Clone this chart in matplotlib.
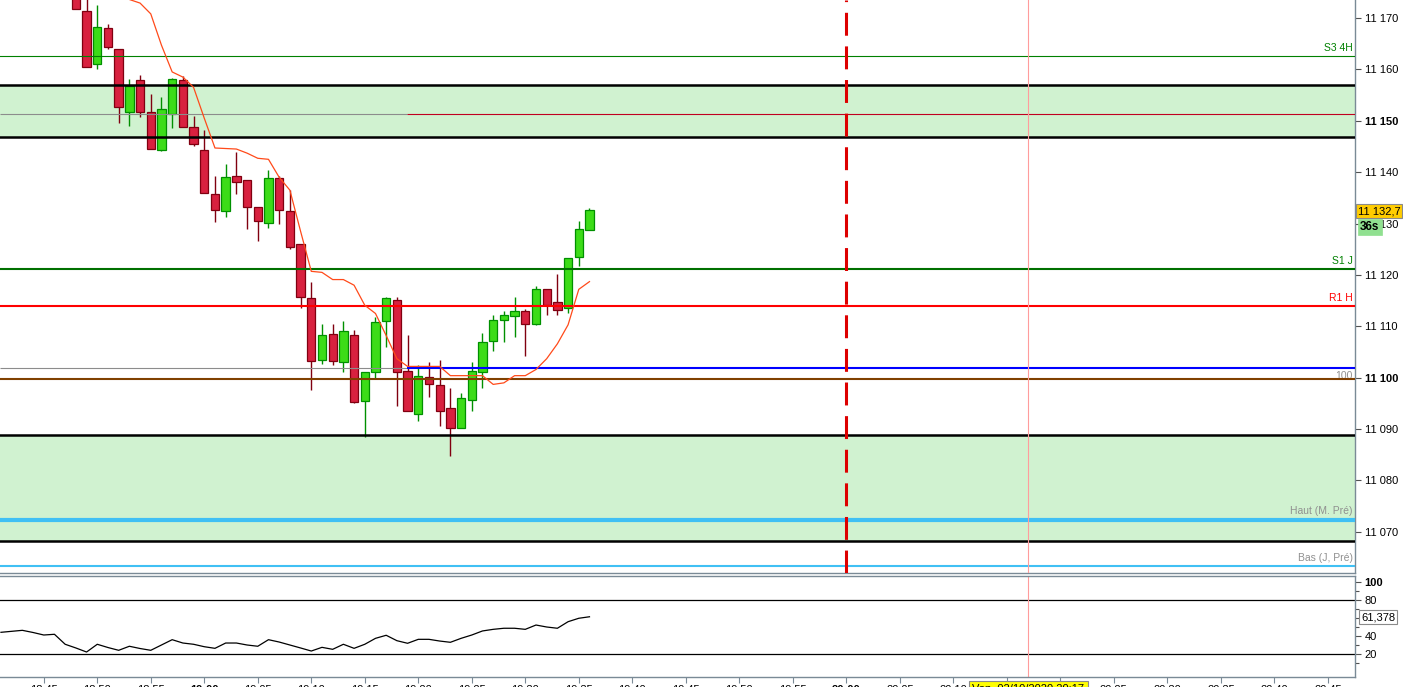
import matplotlib.pyplot as plt
from matplotlib.transforms import blended_transform_factory

plt.rcParams['font.family'] = ['Liberation Sans', 'DejaVu Sans']

# 1-minute candles, the first visible one is 18:48
first_candle = "18:48"
opens = [11177.0, 11171.3, 11161.0, 11168.0, 11163.9, 11151.7, 11158.0, 11151.8, 11144.4, 11151.3,
         11158.0, 11148.7, 11144.4, 11135.8, 11132.5, 11139.3, 11138.4, 11133.3, 11130.2, 11138.8,
         11132.5, 11126.1, 11115.6, 11103.5, 11108.5, 11103.1, 11108.3, 11095.5, 11101.1, 11111.1,
         11115.2, 11101.3, 11093.0, 11100.2, 11098.6, 11094.1, 11090.2, 11095.6, 11101.1, 11107.2,
         11111.3, 11112.0, 11113.0, 11110.5, 11117.3, 11114.8, 11113.6, 11123.4, 11128.8]
highs = [11178.5, 11175.5, 11172.5, 11168.8, 11163.9, 11158.1, 11158.9, 11155.3, 11154.7, 11158.4,
         11158.7, 11150.9, 11148.2, 11139.2, 11141.5, 11143.9, 11138.4, 11133.3, 11140.4, 11139.2,
         11136.5, 11126.1, 11118.7, 11110.5, 11110.5, 11111.1, 11109.2, 11101.1, 11111.9, 11115.8,
         11115.8, 11108.4, 11102.5, 11103.1, 11103.5, 11098.0, 11097.0, 11103.1, 11108.7, 11112.2,
         11113.0, 11115.8, 11113.3, 11117.8, 11117.3, 11120.2, 11123.2, 11130.4, 11133.1]
lows = [11171.7, 11160.4, 11160.0, 11163.9, 11149.6, 11149.0, 11150.8, 11144.6, 11144.1, 11148.6,
        11148.8, 11145.1, 11136.0, 11130.3, 11131.3, 11135.7, 11128.9, 11126.6, 11129.1, 11130.0,
        11125.1, 11113.5, 11097.6, 11102.7, 11102.5, 11101.2, 11095.0, 11088.4, 11100.0, 11105.9,
        11094.4, 11093.5, 11091.5, 11096.2, 11090.7, 11084.7, 11090.2, 11093.5, 11098.0, 11105.2,
        11107.0, 11108.0, 11104.2, 11110.3, 11112.2, 11112.2, 11112.6, 11121.7, 11128.8]
closes = [11171.7, 11160.4, 11168.2, 11164.3, 11152.6, 11156.7, 11151.7, 11144.6, 11152.2, 11158.2,
          11148.8, 11145.4, 11136.0, 11132.7, 11139.1, 11138.1, 11133.2, 11130.4, 11138.8, 11132.7,
          11125.5, 11115.8, 11103.3, 11108.3, 11103.3, 11109.1, 11095.2, 11101.1, 11110.9, 11115.6,
          11101.1, 11093.5, 11100.4, 11098.8, 11093.5, 11090.2, 11096.1, 11101.3, 11107.0, 11111.3,
          11112.2, 11113.0, 11110.5, 11117.3, 11114.2, 11113.2, 11123.2, 11129.0, 11132.7]

# moving average, starts 18:52
sma_start = "18:52"
sma = [11178.0, 11173.6, 11172.9, 11170.8, 11164.7, 11159.5, 11158.5, 11156.5, 11150.5, 11144.7,
       11144.6, 11144.5, 11143.7, 11142.7, 11142.5, 11139.0, 11136.5, 11128.5, 11120.7, 11120.5,
       11119.1, 11119.1, 11118.0, 11114.1, 11112.5, 11108.2, 11103.7, 11102.2, 11102.2, 11102.2,
       11102.2, 11100.4, 11100.4, 11100.4, 11100.4, 11098.7, 11099.0, 11100.4, 11100.4, 11101.6,
       11103.7, 11106.6, 11110.3, 11117.2, 11118.7]

# lower indicator, starts 18:41
osc_start = "18:41"
osc = [44.1, 45.2, 46.3, 43.9, 41.1, 41.9, 30.8, 26.7, 22.2, 30.8, 27.2, 24.1, 28.6, 26.1, 24.1,
       30.0, 35.9, 32.2, 30.8, 28.1, 26.3, 32.2, 32.2, 30.0, 28.6, 35.9, 33.3, 30.0, 26.7, 23.3,
       27.4, 25.2, 30.8, 26.3, 30.8, 37.4, 40.8, 34.8, 31.9, 36.3, 36.3, 34.4, 33.0, 37.4, 41.1,
       45.6, 47.4, 48.6, 48.6, 47.4, 52.2, 50.0, 48.6, 55.9, 59.7, 61.378]

# horizontal levels
s3_4h = 11162.6
upper_zone = (11146.8, 11156.9)
mid_line = 11151.3
s1_j = 11121.1
r1_h = 11113.9
line_100 = 11101.8
brown_line = 11099.8
lower_zone = (11068.2, 11088.9)
haut_m_pre = 11072.3
bas_j_pre = 11063.4
split_time = "19:19"
session_end = "20:00"
cursor_time = "20:17"
cursor_label = "Ven. 02/10/2020 20:17"
last_price = 11132.7
countdown = "36s"


def minutes(hhmm):
    h, m = hhmm.split(":")
    return int(h) * 60 + int(m)


def fmt_price(v, dec=0):
    s = f"{v:,.{dec}f}"
    return s.replace(",", " ").replace(".", ",")


t0 = minutes(first_candle)
t = [t0 + i for i in range(len(closes))]
t_sma = [minutes(sma_start) + i for i in range(len(sma))]
t_osc = [minutes(osc_start) + i for i in range(len(osc))]
x_left, x_right = 1120.91, 1247.54

W, H = 1403, 687
fig = plt.figure(figsize=(W / 100, H / 100), dpi=100)
ax = fig.add_axes([0, (H - 573) / H, 1355 / W, 573 / H])
ax2 = fig.add_axes([0, 10 / H, 1355 / W, 101 / H])

frame = "#7a8a96"

# zones
for lo, hi in (upper_zone, lower_zone):
    ax.axhspan(lo, hi, color="#d0f2d0", lw=0, zorder=1)
    ax.axhline(lo, color="black", lw=1.8, zorder=5)
    ax.axhline(hi, color="black", lw=1.8, zorder=5)

# candles
for ti, o, h, l, c in zip(t, opens, highs, lows, closes):
    up = c >= o
    body = "#3cdc18" if up else "#d8213f"
    edge = "#009000" if up else "#800010"
    ax.vlines(ti, l, h, colors=edge, lw=1.0, zorder=3)
    ax.bar(ti, max(abs(c - o), 0.15), bottom=min(o, c), width=0.78,
           color=body, edgecolor=edge, linewidth=0.9, zorder=4)

# levels
xs = minutes(split_time) - 0.05
ax.axhline(s3_4h, color="#008000", lw=0.8, zorder=5)
ax.hlines(mid_line, x_left, xs, color="#8c8c8c", lw=0.8, zorder=5)
ax.hlines(mid_line, xs, x_right, color="#c00020", lw=0.8, zorder=5)
ax.axhline(s1_j, color="#007000", lw=1.5, zorder=5)
ax.axhline(r1_h, color="#ff0000", lw=1.5, zorder=5)
ax.hlines(line_100, x_left, xs, color="#8c8c8c", lw=0.8, zorder=5)
ax.hlines(line_100, xs, x_right, color="#0000ff", lw=1.5, zorder=5)
ax.axhline(brown_line, color="#804000", lw=1.5, zorder=5)
ax.axhline(haut_m_pre, color="#40c0f4", lw=3.0, zorder=5)
ax.axhline(bas_j_pre, color="#40c0f4", lw=1.5, zorder=5)

ax.plot(t_sma, sma, color="#ff4a1a", lw=0.9, zorder=6)

ax.axvline(minutes(session_end), color="#dd0000", lw=2.2, linestyle=(0, (7.5, 3.5)), zorder=6)
ax.axvline(minutes(cursor_time), color="#ff9c9c", lw=0.8, zorder=6)

tr = blended_transform_factory(ax.transAxes, ax.transData)
ax.text(0.9985, s3_4h + 0.6, "S3 4H", color="#008000", fontsize=7.5, ha="right", va="bottom", transform=tr)
ax.text(0.9985, s1_j + 0.6, "S1 J", color="#008000", fontsize=7.5, ha="right", va="bottom", transform=tr)
ax.text(0.9985, r1_h + 0.6, "R1 H", color="#ff0000", fontsize=7.5, ha="right", va="bottom", transform=tr)
ax.text(0.9985, line_100 - 0.4, "100", color="#909090", fontsize=7.5, ha="right", va="top", transform=tr)
ax.text(0.9985, haut_m_pre + 0.7, "Haut (M. Pré)", color="#909090", fontsize=7.5, ha="right", va="bottom", transform=tr)
ax.text(0.9985, bas_j_pre + 0.5, "Bas (J, Pré)", color="#909090", fontsize=7.5, ha="right", va="bottom", transform=tr)

ax.set_xlim(x_left, x_right)
ax.set_ylim(11062.0, 11173.5)
ax.set_xticks([])
ax.yaxis.tick_right()
yt = list(range(11070, 11171, 10))
ax.set_yticks(yt)
ax.set_yticklabels([fmt_price(v) for v in yt])
for lab, v in zip(ax.get_yticklabels(), yt):
    if v % 50 == 0:
        lab.set_fontweight("bold")
        lab.set_fontsize(9)
ax.tick_params(axis="y", length=4, width=0.8, color="#505050", labelsize=8, pad=3)
for side in ("top", "left"):
    ax.spines[side].set_visible(False)
for side in ("right", "bottom"):
    ax.spines[side].set_color(frame)
    ax.spines[side].set_linewidth(1.0)

# lower panel
ax2.axhline(80, color="black", lw=0.9)
ax2.axhline(20, color="black", lw=0.9)
ax2.plot(t_osc, osc, color="black", lw=0.9)
ax2.axvline(minutes(cursor_time), color="#ff9c9c", lw=0.8)
ax2.set_xlim(x_left, x_right)
ax2.set_ylim(-5.56, 106.67)
ax2.yaxis.tick_right()
ax2.set_yticks([20, 40, 60, 80, 100])
# the 60 label sits under the current-value box
ax2.set_yticklabels(["20", "40", "", "80", "100"])
ax2.set_yticks([10, 30, 50, 70, 90], minor=True)
ax2.get_yticklabels()[-1].set_fontweight("bold")
ax2.get_yticklabels()[-1].set_fontsize(9)
ax2.tick_params(axis="y", which="major", length=4, width=0.8, color="#505050", labelsize=8, pad=3)
ax2.tick_params(axis="y", which="minor", length=3, width=0.8, color="#505050")

xt = list(range(1125, 1246, 5))
skip = {minutes("20:15"), minutes("20:20")}
xl = ["" if v in skip else f"{v // 60}:{v % 60:02d}" for v in xt]
ax2.set_xticks(xt)
ax2.set_xticklabels(xl)
for lab, v in zip(ax2.get_xticklabels(), xt):
    if v % 60 == 0:
        lab.set_fontweight("bold")
ax2.tick_params(axis="x", length=4, width=0.8, color=frame, labelsize=8, pad=2)
ax2.spines["left"].set_visible(False)
for side in ("top", "right", "bottom"):
    ax2.spines[side].set_color(frame)
    ax2.spines[side].set_linewidth(1.0)

# value boxes on the right axis
fig.text(1358 / W, 1 - 211 / H, fmt_price(last_price, 1), fontsize=8, ha="left", va="center",
         bbox=dict(boxstyle="square,pad=0.15", fc="#ffcc00", ec="#8a8a8a", lw=0.8))
fig.text(1360 / W, 1 - 227 / H, countdown, fontsize=8.5, fontweight="bold", ha="left", va="center",
         bbox=dict(boxstyle="square,pad=0.2", fc="#90e090", ec="#90e090", lw=0.5))
fig.text(1361 / W, 1 - 617 / H, fmt_price(osc[-1], 3), fontsize=8, ha="left", va="center",
         bbox=dict(boxstyle="square,pad=0.15", fc="white", ec="#8a8a8a", lw=0.8))
cur_tr = blended_transform_factory(ax2.transData, fig.transFigure)
fig.text(minutes(cursor_time), 1 - 684 / H, cursor_label, transform=cur_tr,
         fontsize=8, ha="center", va="top",
         bbox=dict(boxstyle="square,pad=0.3", fc="#ffff00", ec="#8a8a8a", lw=0.8))

fig.savefig("out.png", dpi=100)
